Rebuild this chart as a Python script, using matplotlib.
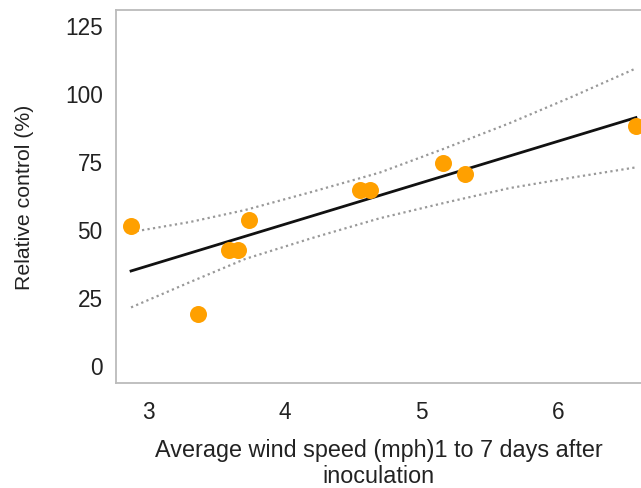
import matplotlib
matplotlib.use("Agg")
import matplotlib.pyplot as plt
import numpy as np

# observed points (wind speed mph, relative control %)
wind = [2.876, 3.366, 3.593, 3.658, 3.739, 4.551, 4.624, 5.158, 5.320, 6.570]
control = [51.1, 18.8, 42.3, 42.3, 53.3, 64.3, 64.3, 74.3, 70.3, 88.0]

# fitted line end points
fit_x = [2.876, 6.570]
fit_y = [34.6, 91.0]

# confidence band, read along x
band_x = [2.876, 3.307, 3.710, 4.200, 4.697, 5.173, 5.648, 6.109, 6.570]
band_upper = [48.9, 52.6, 57.0, 63.7, 70.8, 79.7, 89.0, 98.8, 109.1]
band_lower = [21.2, 30.5, 39.0, 46.7, 54.0, 59.7, 65.1, 69.0, 72.7]

xticks = [3, 4, 5, 6]
yticks = [0, 25, 50, 75, 100, 125]

plt.rcParams['font.family'] = ['Liberation Sans', 'DejaVu Sans']

fig = plt.figure(figsize=(6.41, 4.89), dpi=100)
ax = fig.add_axes([0.181, 0.2147, 0.819, 0.763])

ax.plot(band_x, band_upper, linestyle=(0, (1, 1.5)), color='#999999', lw=1.6)
ax.plot(band_x, band_lower, linestyle=(0, (1, 1.5)), color='#999999', lw=1.6)
ax.plot(fit_x, fit_y, color='#111111', lw=2)
ax.scatter(wind, control, s=150, color='#FFA000', zorder=3, clip_on=False, linewidths=0)

ax.set_xlim(2.766, 6.607)
ax.set_ylim(-6.6, 130.6)
ax.set_xticks(xticks)
ax.set_yticks(yticks)
ax.tick_params(length=0, labelsize=16.3, colors='#222222')
ax.tick_params(axis='x', pad=12)
ax.tick_params(axis='y', pad=9.5)

for side in ['left', 'top', 'bottom']:
    ax.spines[side].set_color('#bbbbbb')
    ax.spines[side].set_linewidth(1.3)
ax.spines['right'].set_visible(False)

ax.set_xlabel('Average wind speed (mph)1 to 7 days after\ninoculation', fontsize=16.8,
              color='#222222', labelpad=11, linespacing=1.15)
ax.set_ylabel('Relative control (%)', fontsize=15.3, color='#222222', labelpad=22)

fig.savefig('out.png', dpi=100)
